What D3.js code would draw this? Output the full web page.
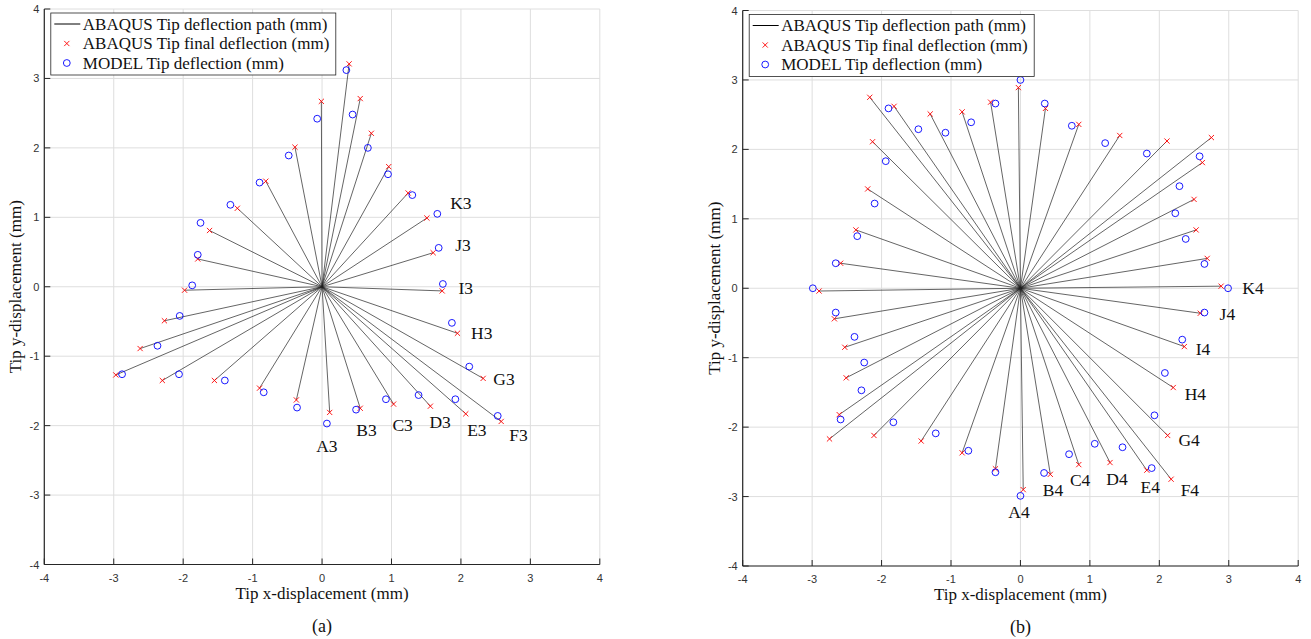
<!DOCTYPE html>
<html>
<head>
<meta charset="utf-8">
<script src="https://cdn.jsdelivr.net/npm/d3@7"></script>
<style>
  body { margin: 0; background: #fff; }
  svg { display: block; }
  .tick-label { font-family: "Liberation Sans", Arial, sans-serif; font-size: 11px; fill: #333; }
  .serif { font-family: "Liberation Serif", "Times New Roman", serif; fill: #111; }
</style>
</head>
<body>
<svg id="chart" width="1311" height="639"></svg>
<script>
// case (a): ABAQUS final tip deflection and MODEL tip deflection, mm
var caseAAbaqusX = [0.11, 0.55, 1.03, 1.56, 2.07, 2.58, 2.32, 1.95, 1.73, 1.60, 1.51, 1.24, 0.96, 0.71, 0.55, 0.39, -0.01, -0.39, -0.81, -1.22, -1.62, -1.79, -1.98, -2.27, -2.62, -2.97, -2.30, -1.55, -0.90, -0.37];
var caseAAbaqusY = [-1.81, -1.75, -1.69, -1.72, -1.83, -1.94, -1.32, -0.67, -0.06, 0.49, 0.99, 1.35, 1.73, 2.21, 2.71, 3.21, 2.67, 2.01, 1.52, 1.13, 0.81, 0.40, -0.05, -0.49, -0.89, -1.27, -1.35, -1.35, -1.46, -1.63];
var caseAModelX = [0.07, 0.49, 0.92, 1.39, 1.92, 2.53, 2.12, 1.87, 1.74, 1.68, 1.66, 1.30, 0.95, 0.66, 0.44, 0.35, -0.07, -0.48, -0.90, -1.32, -1.75, -1.79, -1.87, -2.05, -2.37, -2.88, -2.06, -1.40, -0.84, -0.36];
var caseAModelY = [-1.97, -1.77, -1.62, -1.56, -1.62, -1.86, -1.15, -0.52, 0.04, 0.56, 1.05, 1.32, 1.62, 2.00, 2.48, 3.12, 2.42, 1.89, 1.50, 1.18, 0.92, 0.46, 0.02, -0.42, -0.85, -1.26, -1.26, -1.35, -1.52, -1.74];
var caseALabels = ["A3", "B3", "C3", "D3", "E3", "F3", "G3", "H3", "I3", "J3", "K3"];
var caseALabelX = [0.07, 0.64, 1.16, 1.70, 2.23, 2.83, 2.62, 2.30, 2.07, 2.03, 2.00];
var caseALabelY = [-2.29, -2.07, -1.99, -1.95, -2.06, -2.13, -1.33, -0.67, -0.02, 0.60, 1.20];

// case (b)
var caseBAbaqusX = [0.04, 0.43, 0.84, 1.29, 1.82, 2.17, 2.12, 2.20, 2.36, 2.59, 2.89, 2.69, 2.53, 2.50, 2.62, 2.75, 2.11, 1.43, 0.84, 0.36, -0.03, -0.43, -0.84, -1.30, -1.82, -2.17, -2.13, -2.20, -2.37, -2.59, -2.90, -2.68, -2.53, -2.51, -2.61, -2.75, -2.11, -1.43, -0.84, -0.36];
var caseBAbaqusY = [-2.90, -2.68, -2.54, -2.51, -2.62, -2.75, -2.12, -1.43, -0.84, -0.36, 0.03, 0.43, 0.84, 1.28, 1.81, 2.17, 2.12, 2.20, 2.36, 2.59, 2.89, 2.68, 2.54, 2.51, 2.62, 2.75, 2.11, 1.43, 0.84, 0.36, -0.04, -0.44, -0.85, -1.29, -1.82, -2.17, -2.12, -2.20, -2.37, -2.60];
var caseBModelX = [0.00, 0.34, 0.70, 1.07, 1.47, 1.89, 1.93, 2.08, 2.33, 2.65, 2.99, 2.65, 2.38, 2.23, 2.29, 2.58, 1.82, 1.22, 0.74, 0.35, 0.00, -0.36, -0.71, -1.08, -1.47, -1.90, -1.94, -2.10, -2.35, -2.66, -2.99, -2.66, -2.39, -2.25, -2.29, -2.59, -1.83, -1.22, -0.75, -0.36];
var caseBModelY = [-2.99, -2.66, -2.39, -2.24, -2.29, -2.59, -1.83, -1.22, -0.74, -0.35, 0.00, 0.35, 0.71, 1.08, 1.47, 1.90, 1.94, 2.09, 2.34, 2.66, 3.00, 2.66, 2.39, 2.24, 2.29, 2.59, 1.83, 1.22, 0.75, 0.36, 0.00, -0.35, -0.70, -1.07, -1.47, -1.89, -1.93, -2.09, -2.34, -2.65];
var caseBLabels = ["A4", "B4", "C4", "D4", "E4", "F4", "G4", "H4", "I4", "J4", "K4"];
var caseBLabelX = [-0.02, 0.47, 0.86, 1.39, 1.87, 2.44, 2.43, 2.52, 2.63, 2.98, 3.35];
var caseBLabelY = [-3.22, -2.91, -2.76, -2.75, -2.86, -2.91, -2.19, -1.52, -0.87, -0.37, 0.01];

var axisTicks = [-4, -3, -2, -1, 0, 1, 2, 3, 4];
var legendItems = ["ABAQUS Tip deflection path (mm)", "ABAQUS Tip final deflection (mm)", "MODEL Tip deflection (mm)"];

var svg = d3.select("#chart");

function DrawPanel(opts) {
  var x = d3.scaleLinear().domain([-4, 4]).range([opts.left, opts.left + 555.5]);
  var y = d3.scaleLinear().domain([-4, 4]).range([opts.top + 555.5, opts.top]);
  var g = svg.append("g");

  // grid
  g.append("g").selectAll("line").data(axisTicks).enter().append("line")
    .attr("x1", function (d) { return x(d); }).attr("x2", function (d) { return x(d); })
    .attr("y1", y(-4)).attr("y2", y(4))
    .attr("stroke", "#dedede").attr("stroke-width", 1);
  g.append("g").selectAll("line").data(axisTicks).enter().append("line")
    .attr("y1", function (d) { return y(d); }).attr("y2", function (d) { return y(d); })
    .attr("x1", x(-4)).attr("x2", x(4))
    .attr("stroke", "#dedede").attr("stroke-width", 1);

  // tip deflection paths
  var path = d3.line().x(function (d) { return x(d[0]); }).y(function (d) { return y(d[1]); });
  g.append("g").selectAll("path").data(opts.ax).enter().append("path")
    .attr("d", function (d, i) { return path([[0, 0], [opts.ax[i], opts.ay[i]]]); })
    .attr("fill", "none").attr("stroke", "#222").attr("stroke-width", 0.7);

  // ABAQUS final (red x)
  var s = 2.6;
  g.append("g").selectAll("path").data(opts.ax).enter().append("path")
    .attr("transform", function (d, i) { return "translate(" + x(opts.ax[i]) + "," + y(opts.ay[i]) + ")"; })
    .attr("d", "M" + -s + "," + -s + "L" + s + "," + s + "M" + -s + "," + s + "L" + s + "," + -s)
    .attr("stroke", "#ff0000").attr("stroke-width", 0.9);

  // MODEL (blue o)
  g.append("g").selectAll("circle").data(opts.mx).enter().append("circle")
    .attr("cx", function (d) { return x(d); })
    .attr("cy", function (d, i) { return y(opts.my[i]); })
    .attr("r", 3.4)
    .attr("fill", "none").attr("stroke", "#0000ff").attr("stroke-width", 0.9);

  // case labels
  g.append("g").selectAll("text").data(opts.labels).enter().append("text")
    .attr("class", "serif")
    .attr("x", function (d, i) { return x(opts.lx[i]); })
    .attr("y", function (d, i) { return y(opts.ly[i]); })
    .attr("text-anchor", "middle").attr("dominant-baseline", "central")
    .attr("font-size", 17.5)
    .text(function (d) { return d; });

  // axes (left + bottom, ticks inward)
  g.append("line").attr("x1", x(-4)).attr("x2", x(4)).attr("y1", y(-4)).attr("y2", y(-4))
    .attr("stroke", "#262626").attr("stroke-width", 1.2);
  g.append("line").attr("x1", x(-4)).attr("x2", x(-4)).attr("y1", y(-4)).attr("y2", y(4))
    .attr("stroke", "#262626").attr("stroke-width", 1.2);
  g.append("g").selectAll("line").data(axisTicks).enter().append("line")
    .attr("x1", function (d) { return x(d); }).attr("x2", function (d) { return x(d); })
    .attr("y1", y(-4)).attr("y2", y(-4) - 6)
    .attr("stroke", "#262626");
  g.append("g").selectAll("line").data(axisTicks).enter().append("line")
    .attr("y1", function (d) { return y(d); }).attr("y2", function (d) { return y(d); })
    .attr("x1", x(-4)).attr("x2", x(-4) + 6)
    .attr("stroke", "#262626");

  g.append("g").selectAll("text").data(axisTicks).enter().append("text")
    .attr("class", "tick-label")
    .attr("x", function (d) { return x(d); }).attr("y", y(-4) + 13)
    .attr("text-anchor", "middle").attr("dominant-baseline", "central")
    .text(function (d) { return d; });
  g.append("g").selectAll("text").data(axisTicks).enter().append("text")
    .attr("class", "tick-label")
    .attr("x", x(-4) - 5).attr("y", function (d) { return y(d); })
    .attr("text-anchor", "end").attr("dominant-baseline", "central")
    .text(function (d) { return d; });

  // axis titles
  g.append("text").attr("class", "serif").attr("font-size", 17)
    .attr("x", x(0)).attr("y", y(-4) + 34)
    .attr("text-anchor", "middle")
    .text("Tip x-displacement (mm)");
  g.append("text").attr("class", "serif").attr("font-size", 17)
    .attr("transform", "translate(" + (x(-4) - 23) + "," + y(0) + ") rotate(-90)")
    .attr("text-anchor", "middle")
    .text("Tip y-displacement (mm)");
  g.append("text").attr("class", "serif").attr("font-size", 18)
    .attr("x", x(0)).attr("y", y(-4) + 67)
    .attr("text-anchor", "middle")
    .text(opts.caption);

  // legend
  var lg = g.append("g").attr("transform", "translate(" + (x(-4) + 6.5) + "," + (y(4) + 4) + ")");
  lg.append("rect").attr("width", 285).attr("height", 62)
    .attr("fill", "#fff").attr("stroke", "#262626").attr("stroke-width", 0.8);
  var rows = lg.selectAll("g.row").data(legendItems).enter().append("g")
    .attr("class", "row")
    .attr("transform", function (d, i) { return "translate(0," + (11 + i * 19.5) + ")"; });
  rows.append("text").attr("class", "serif").attr("font-size", 17)
    .attr("x", 32).attr("dominant-baseline", "central")
    .text(function (d) { return d; });
  rows.filter(function (d, i) { return i === 0; }).append("line")
    .attr("x1", 3.5).attr("x2", 29.5).attr("stroke", "#000").attr("stroke-width", 1);
  rows.filter(function (d, i) { return i === 1; }).append("path")
    .attr("d", "M" + (16 - s) + "," + -s + "L" + (16 + s) + "," + s + "M" + (16 - s) + "," + s + "L" + (16 + s) + "," + -s)
    .attr("stroke", "#ff0000").attr("stroke-width", 0.9);
  rows.filter(function (d, i) { return i === 2; }).append("circle")
    .attr("cx", 16).attr("r", 3.4)
    .attr("fill", "none").attr("stroke", "#0000ff").attr("stroke-width", 0.9);
}

DrawPanel({ left: 44.3, top: 9, ax: caseAAbaqusX, ay: caseAAbaqusY, mx: caseAModelX, my: caseAModelY,
  labels: caseALabels, lx: caseALabelX, ly: caseALabelY, caption: "(a)" });
DrawPanel({ left: 742.7, top: 10.5, ax: caseBAbaqusX, ay: caseBAbaqusY, mx: caseBModelX, my: caseBModelY,
  labels: caseBLabels, lx: caseBLabelX, ly: caseBLabelY, caption: "(b)" });
</script>
</body>
</html>
